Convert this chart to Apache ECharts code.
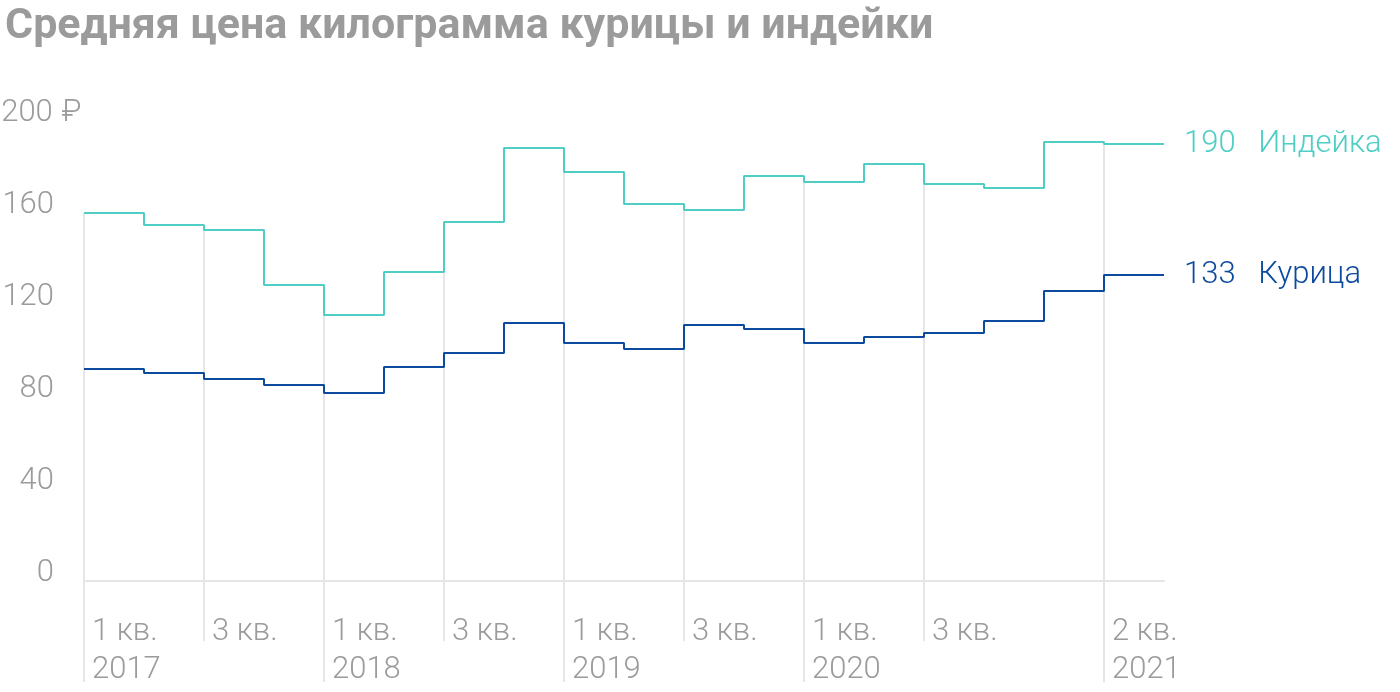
<!DOCTYPE html>
<html>
<head>
<meta charset="utf-8">
<script src="https://cdn.jsdelivr.net/npm/echarts@6/dist/echarts.min.js"></script>
<style>
  html, body { margin: 0; padding: 0; background: #fff; }
  #chart { width: 1400px; height: 692px; }
</style>
</head>
<body>
<div id="chart"></div>
<script>
// quarters 1 кв. 2017 ... 2 кв. 2021
const quarters = ['1 кв. 2017', '2 кв. 2017', '3 кв. 2017', '4 кв. 2017',
  '1 кв. 2018', '2 кв. 2018', '3 кв. 2018', '4 кв. 2018',
  '1 кв. 2019', '2 кв. 2019', '3 кв. 2019', '4 кв. 2019',
  '1 кв. 2020', '2 кв. 2020', '3 кв. 2020', '4 кв. 2020',
  '1 кв. 2021', '2 кв. 2021']
const turkey = [160.0, 154.8, 152.6, 128.7, 115.7, 134.3, 156.1, 188.3, 177.8, 163.9,
  161.3, 176.1, 173.5, 181.3, 172.6, 170.9, 190.9, 190]
const chicken = [92.2, 90.4, 87.8, 85.2, 81.7, 93.0, 99.1, 112.2, 103.5, 100.9,
  111.3, 109.6, 103.5, 106.1, 107.8, 113.0, 126.1, 133]
// labelled ticks on the x axis
const yearTicks = [0, 4, 8, 12, 17]
const midTicks = [2, 6, 10, 14]
const tickLabels = {
  0: '1 кв.\n2017', 2: '3 кв.', 4: '1 кв.\n2018', 6: '3 кв.', 8: '1 кв.\n2019',
  10: '3 кв.', 12: '1 кв.\n2020', 14: '3 кв.', 17: '2 кв.\n2021'
}

const GRAY = '#9b9b9b'
const GRID = '#e6e6e6'
const TEAL = '#50cec5'
const NAVY = '#0b4a9c'
const FONT = 'Roboto'
const FS = 31

// step line: each quarter holds its value until the next one
const toStep = (arr) => arr.map((v, i) => [i, v]).concat([[arr.length, arr[arr.length - 1]]])

const allTicks = yearTicks.concat(midTicks).sort((a, b) => a - b)
const dropLines = allTicks.map(i => [i, Math.max(turkey[i], i > 0 ? turkey[i - 1] : turkey[i])])

const chart = echarts.init(document.getElementById('chart'))

const option = {
  backgroundColor: '#fff',
  animation: false,
  title: {
    text: 'Средняя цена килограмма курицы и индейки',
    left: 0,
    top: 1,
    textStyle: {
      fontFamily: FONT,
      fontSize: 43,
      fontWeight: 'bold',
      color: GRAY
    }
  },
  grid: {
    left: 84,
    right: 236,
    top: 121,
    bottom: 111,
    outerBoundsMode: 'none'
  },
  xAxis: [
    {
      type: 'value',
      min: 0,
      max: quarters.length,
      axisLine: { show: true, lineStyle: { color: GRID, width: 2 } },
      splitLine: { show: false },
      axisTick: {
        show: true,
        customValues: yearTicks,
        length: 101,
        lineStyle: { color: GRID, width: 2 }
      },
      axisLabel: {
        customValues: allTicks,
        formatter: (v) => tickLabels[v] || '',
        align: 'left',
        verticalAlign: 'top',
        margin: 32,
        padding: [0, 0, 0, 8],
        lineHeight: 38,
        fontFamily: FONT,
        fontWeight: 300,
        fontSize: FS,
        color: GRAY
      }
    },
    {
      type: 'value',
      position: 'bottom',
      min: 0,
      max: quarters.length,
      axisLine: { show: false },
      splitLine: { show: false },
      axisTick: {
        show: true,
        customValues: midTicks,
        length: 60,
        lineStyle: { color: GRID, width: 2 }
      },
      axisLabel: { show: false }
    }
  ],
  yAxis: {
    type: 'value',
    min: 0,
    max: 200,
    interval: 40,
    axisLine: { show: false },
    axisTick: { show: false },
    splitLine: { show: false },
    axisLabel: {
      align: 'left',
      verticalAlign: 'bottom',
      margin: 84,
      formatter: (v) => v === 200 ? '{n|' + v + '}{r| ₽}' : '{n|' + v + '}',
      rich: {
        n: { width: 54, align: 'right', fontFamily: FONT, fontWeight: 300, fontSize: FS, color: GRAY, lineHeight: 16 },
        r: { fontFamily: FONT, fontWeight: 300, fontSize: FS, color: GRAY, lineHeight: 16 }
      }
    }
  },
  series: [
    {
      type: 'bar',
      silent: true,
      barWidth: 2,
      itemStyle: { color: GRID },
      data: dropLines,
      z: 1
    },
    {
      name: 'Индейка',
      type: 'line',
      step: 'end',
      symbol: 'none',
      lineStyle: { color: TEAL, width: 2 },
      data: toStep(turkey),
      z: 3,
      endLabel: {
        show: true,
        distance: 20,
        formatter: (p) => Math.round(p.value[1]) + '   Индейка',
        fontFamily: FONT,
        fontWeight: 300,
        fontSize: FS,
        color: TEAL
      }
    },
    {
      name: 'Курица',
      type: 'line',
      step: 'end',
      symbol: 'none',
      lineStyle: { color: NAVY, width: 2 },
      data: toStep(chicken),
      z: 3,
      endLabel: {
        show: true,
        distance: 20,
        formatter: (p) => Math.round(p.value[1]) + '   Курица',
        fontFamily: FONT,
        fontWeight: 300,
        fontSize: FS,
        color: NAVY
      }
    }
  ]
}

chart.setOption(option)

window.addEventListener('resize', () => chart.resize())
</script>
</body>
</html>
